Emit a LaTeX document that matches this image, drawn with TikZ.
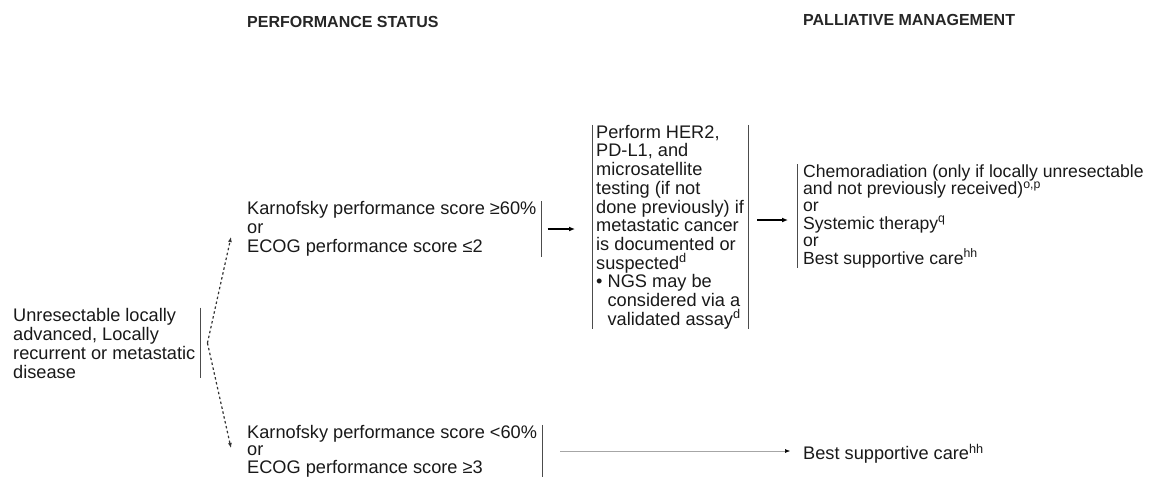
\documentclass[tikz,border=0pt]{standalone}
\usepackage{fontspec}
\setmainfont{Liberation Sans}
\usetikzlibrary{arrows.meta}

\tikzset{
	txt/.style={anchor=west, align=left, inner xsep=5pt, inner ysep=0pt, text=black!90, font=\fontsize{18.2}{19}\selectfont},
	heading/.style={anchor=west, inner sep=0pt, text=black!85, font=\bfseries\fontsize{16}{18}\selectfont},
	bar/.style={line width=0.9pt, draw=black!70},
	go/.style={line width=1.2pt, -{Latex[length=6pt,width=5pt]}},
	golight/.style={line width=0.5pt, draw=black!35, -{Latex[length=5pt,width=4pt,black]}},
	split/.style={line width=1.2pt, draw=black!80, dash pattern=on 2.5pt off 2.5pt, -{Latex[length=5pt,width=4pt]}}
}

\begin{document}
\begin{tikzpicture}[x=1pt, y=-1pt]
			%%%%% START %%%%%
			\useasboundingbox (0, 0) rectangle (1168, 479);
			
			\node[heading] (ps) at (247, 22) {PERFORMANCE STATUS};
			\node[heading] (pm) at (803, 20) {PALLIATIVE MANAGEMENT};
			
			\node[txt] (start) at (8, 343) {Unresectable locally\\advanced, Locally\\recurrent or metastatic\\disease};
			
			\node[txt] (kps_hi) at (242, 229) {Karnofsky performance score ≥60\%\\or\\ECOG performance score ≤2};
			\node[txt, font=\fontsize{18.2}{17.5}\selectfont] (kps_lo) at (242, 451) {Karnofsky performance score <60\%\\or\\ECOG performance score ≥3};
			
			\node[txt, inner xsep=4pt, font=\fontsize{18.2}{18.7}\selectfont] (testing) at (592, 227) {Perform HER2,\\PD-L1, and\\microsatellite\\testing (if not\\done previously) if\\metastatic cancer\\is documented or\\suspected\textsuperscript{d}\\\textbullet\ NGS may be\\\hphantom{\textbullet\ }considered via a\\\hphantom{\textbullet\ }validated assay\textsuperscript{d}};
			
			\node[txt, inner xsep=6pt, font=\fontsize{17.6}{17.4}\selectfont] (manage_hi) at (797, 216) {Chemoradiation (only if locally unresectable\\and not previously received)\textsuperscript{o,p}\\or\\Systemic therapy\textsuperscript{q}\\or\\Best supportive care\textsuperscript{hh}};
			\node[txt, inner xsep=6pt] (manage_lo) at (797, 454) {Best supportive care\textsuperscript{hh}};
			
			% bars
			\draw[bar] (start.north east) -- (start.south east);
			\draw[bar] (kps_hi.north east) -- (kps_hi.south east);
			\draw[bar] (kps_lo.north east) -- (kps_lo.south east);
			\draw[bar] (testing.north west) -- (testing.south west);
			\draw[bar] (testing.north east) -- (testing.south east);
			\draw[bar] (manage_hi.north west) -- (manage_hi.south west);
			
			% arrows
			\draw[split] ([xshift=7pt]start.east) -- ([shift={(-11,8)}]kps_hi.west);
			\draw[split] ([xshift=7pt]start.east) -- ([shift={(-11,-3)}]kps_lo.west);
			\draw[go, shorten <=6pt, shorten >=17pt] (kps_hi.east) -- (kps_hi.east -| testing.west);
			\draw[go, shorten <=9pt, shorten >=9pt] ([yshift=7pt]testing.east) -- ([yshift=7pt]testing.east -| manage_hi.west);
			\draw[golight, shorten <=18pt, shorten >=7pt] (kps_lo.east) -- (kps_lo.east -| manage_lo.west);
			
			%%%%% END %%%%%
\end{tikzpicture}
\end{document}
